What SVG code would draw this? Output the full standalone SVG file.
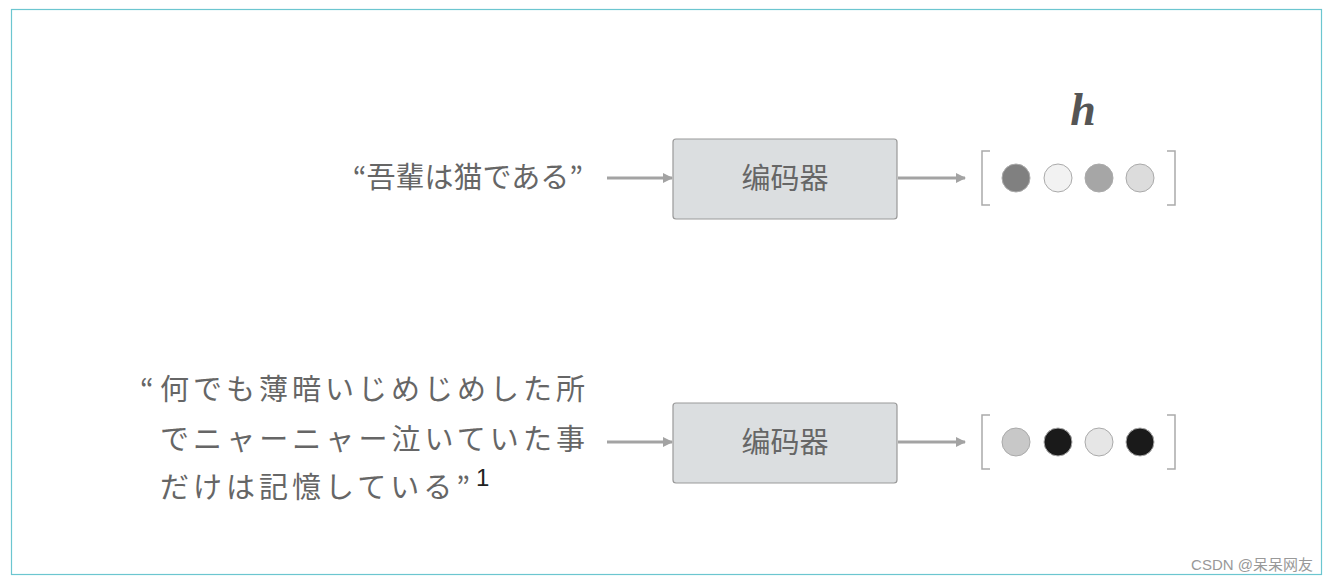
<svg xmlns="http://www.w3.org/2000/svg" width="1328" height="583" viewBox="0 0 1328 583">
<style>
.t{font-family:"Noto Sans CJK JP","Noto Sans CJK SC",sans-serif;fill:#666;font-size:29px}
.box{fill:#dbdee0;stroke:#999;stroke-width:1.2}
.ln{stroke:#a3a3a3;stroke-width:3;fill:none}
.br{stroke:#aaa;stroke-width:1.5;fill:none}
.c{stroke:#aaa;stroke-width:1}
</style>
<defs><marker id="a" markerWidth="10" markerHeight="10" refX="9" refY="5" orient="auto" markerUnits="userSpaceOnUse" viewBox="0 0 10 10"><path d="M0,0L10,5L0,10z" fill="#a3a3a3"/></marker></defs>
<rect width="1328" height="583" fill="#fff"/>
<rect x="11.5" y="9.5" width="1310" height="565" fill="none" stroke="#6cc6d0" stroke-width="1.2"/>
<g id="in1"><text class="t" x="583" y="188" text-anchor="end">“吾輩は猫である”</text></g>
<g id="in2">
<text class="t" x="140" y="400">“</text>
<text class="t" x="160" y="400" textLength="425">何でも薄暗いじめじめした所</text>
<text class="t" x="160" y="450" textLength="425">でニャーニャー泣いていた事</text>
<text class="t" x="160" y="498" textLength="310">だけは記憶している”</text>
<text x="476" y="486" font-family="Liberation Sans,sans-serif" font-size="24" fill="#222">1</text>
</g>
<g id="enc1"><rect class="box" x="673" y="139" width="224" height="80" rx="3"/><text class="t" x="785" y="189" text-anchor="middle">编码器</text></g>
<g id="enc2"><rect class="box" x="673" y="403" width="224" height="80" rx="3"/><text class="t" x="785" y="453" text-anchor="middle">编码器</text></g>
<g id="h"><text x="1083" y="125" text-anchor="middle" font-family="Liberation Serif,serif" font-style="italic" font-weight="bold" font-size="46" fill="#555">h</text></g>
<g id="vec1">
<path class="br" d="M990,151H982V205H990M1167,151H1175V205H1167"/>
<circle class="c" cx="1016" cy="178" r="14" fill="#808080"/><circle class="c" cx="1058" cy="178" r="14" fill="#f2f2f2"/><circle class="c" cx="1099" cy="178" r="14" fill="#a6a6a6"/><circle class="c" cx="1140" cy="178" r="14" fill="#dcdcdc"/>
</g>
<g id="vec2">
<path class="br" d="M990,415H982V469H990M1167,415H1175V469H1167"/>
<circle class="c" cx="1016" cy="442" r="14" fill="#c8c8c8"/><circle class="c" cx="1058" cy="442" r="14" fill="#1a1a1a"/><circle class="c" cx="1099" cy="442" r="14" fill="#e6e6e6"/><circle class="c" cx="1140" cy="442" r="14" fill="#1a1a1a"/>
</g>
<g id="connectors">
<line class="ln" x1="607" y1="178" x2="672" y2="178" marker-end="url(#a)"/>
<line class="ln" x1="898" y1="178" x2="965" y2="178" marker-end="url(#a)"/>
<line class="ln" x1="607" y1="442" x2="672" y2="442" marker-end="url(#a)"/>
<line class="ln" x1="898" y1="442" x2="965" y2="442" marker-end="url(#a)"/>
</g>
<text x="1313" y="570" text-anchor="end" font-family="Liberation Sans,'Noto Sans CJK SC',sans-serif" font-size="15" fill="#999">CSDN @呆呆网友</text>
</svg>
